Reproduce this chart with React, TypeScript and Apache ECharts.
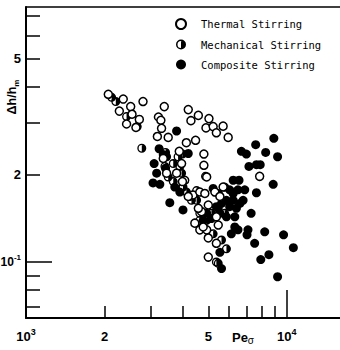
import React, { useEffect, useRef } from "react";
import * as echarts from "echarts";

// Tick / label values
const xLabelValues = [1000, 2000, 5000, 10000];
const xMinorTicks = [2000, 3000, 4000, 5000, 6000, 7000, 8000, 9000];
const xMajorTicks = [10000];
const yLabelValues = [0.1, 0.2, 0.5];
const yMinorTicks = [0.07, 0.08, 0.09, 0.2, 0.3, 0.4, 0.5, 0.6, 0.7];
const yMajorTicks = [0.1];

const seriesNames = ["Thermal Stirring", "Mechanical Stirring", "Composite Stirring"];

// [Pe_sigma, Δh/h_m]
const thermal: [number, number][] = [
  [2068, 0.377], [2360, 0.363], [2810, 0.356], [2520, 0.342], [2280, 0.33], [2550, 0.322],
  [2720, 0.309], [2430, 0.298], [2640, 0.29], [3220, 0.315], [3290, 0.307], [3390, 0.342],
  [3310, 0.288], [3190, 0.27], [3510, 0.268], [4190, 0.334], [4580, 0.319], [4290, 0.306],
  [5030, 0.311], [4900, 0.289], [5220, 0.292], [5700, 0.293], [5370, 0.278], [5960, 0.268],
  [4470, 0.262], [4120, 0.257], [4810, 0.235], [4810, 0.215], [4930, 0.196], [7870, 0.197],
  [3870, 0.24], [3950, 0.218], [3780, 0.202], [4060, 0.191], [4370, 0.17], [4640, 0.174],
  [4850, 0.172], [4710, 0.149], [4440, 0.136], [4640, 0.129], [4930, 0.129], [5000, 0.121],
  [5370, 0.116], [5000, 0.104], [5460, 0.134], [5300, 0.174], [5540, 0.168], [5000, 0.157],
  [4580, 0.153], [5370, 0.143], [3360, 0.227], [4190, 0.168], [3980, 0.189], [4780, 0.132],
  [5700, 0.181], [3460, 0.202],
];

const mechanical: [number, number][] = [
  [2130, 0.368], [2210, 0.356], [2430, 0.316], [2670, 0.292], [2780, 0.246], [3430, 0.238],
  [3460, 0.23], [3410, 0.213], [3670, 0.218], [3830, 0.23], [3890, 0.213], [3950, 0.202],
  [3510, 0.196], [3670, 0.189], [4000, 0.181], [4120, 0.174], [4240, 0.168], [4510, 0.176],
  [4310, 0.163], [4880, 0.197], [5870, 0.111], [5460, 0.099], [5370, 0.1], [4640, 0.147],
  [5140, 0.147], [4930, 0.139], [5460, 0.153], [5220, 0.125], [3980, 0.235], [4510, 0.163],
  [4640, 0.139], [5780, 0.147], [5620, 0.119],
];

const composite: [number, number][] = [
  [3780, 0.282], [3100, 0.218], [3170, 0.202], [3070, 0.187], [3260, 0.185], [3560, 0.16],
  [4000, 0.151], [4190, 0.236], [6700, 0.24], [7000, 0.235], [7600, 0.253], [8300, 0.238],
  [8920, 0.266], [9220, 0.23], [7160, 0.213], [7650, 0.216], [7910, 0.216], [8870, 0.185],
  [7650, 0.173], [6900, 0.177], [6230, 0.191], [6560, 0.191], [7300, 0.147], [6410, 0.153],
  [6320, 0.143], [6320, 0.132], [6130, 0.125], [6500, 0.129], [7100, 0.129], [7040, 0.124],
  [7530, 0.116], [8230, 0.127], [9720, 0.124], [10600, 0.112], [8540, 0.106], [7950, 0.102],
  [9220, 0.089], [5540, 0.108], [5620, 0.095], [3240, 0.245], [3360, 0.234], [3430, 0.21],
  [3720, 0.181], [3890, 0.174], [5220, 0.179], [5460, 0.172], [5780, 0.181], [6040, 0.177],
  [6230, 0.172], [5870, 0.163], [6230, 0.163], [5620, 0.159], [6040, 0.155], [5370, 0.155],
  [5140, 0.141], [5540, 0.147], [4930, 0.147], [4780, 0.139], [5870, 0.143], [6610, 0.159],
  [6800, 0.163], [6500, 0.177],
];

const HALF_SYMBOL =
  "path://M10,0A10,10,0,1,1,10,20A10,10,0,1,1,10,0ZM10,3A7,7,0,1,0,10,17A7,7,0,1,0,10,3ZM10,0A10,10,0,0,1,10,20Z";

const FONT = "Liberation Sans";

const labelRich = {
  b: { fontSize: 13, fontWeight: "bold", fontFamily: FONT, color: "#000", lineHeight: 18 },
  bs: { fontSize: 12, fontWeight: "bold", fontFamily: FONT, color: "#000", lineHeight: 18 },
  s: { fontSize: 9, fontWeight: "bold", fontFamily: FONT, color: "#000", lineHeight: 8, verticalAlign: "top" },
  ss: { fontSize: 8, fontWeight: "bold", fontFamily: FONT, color: "#000", lineHeight: 8, verticalAlign: "top" },
};

export default function App() {
  const ref = useRef<HTMLDivElement>(null);
  useEffect(() => {
    const chart = echarts.init(ref.current!, null, { renderer: "svg" });
    const xCommon = { type: "log", logBase: 10, min: 1000, max: 16000, splitLine: { show: false }, minorTick: { show: false } };
    const yCommon = { type: "log", logBase: 10, min: 0.06423, max: 0.752, splitLine: { show: false }, minorTick: { show: false } };
    chart.setOption({
      animation: false,
      backgroundColor: "#fff",
      grid: { left: 26, top: 7, right: 0, bottom: 32, containLabel: false, outerBoundsMode: "none" },
      xAxis: [
        {
          ...xCommon,
          position: "bottom",
          axisLine: { show: true, lineStyle: { color: "#000", width: 2 } },
          axisTick: { show: true, inside: true, length: 12, customValues: xMinorTicks, lineStyle: { color: "#000", width: 1.5 } },
          axisLabel: {
            show: true,
            margin: 9,
            customValues: xLabelValues,
            formatter: (v: number) => {
              if (v < 1500) return "{b|10}{s|3}";
              if (v < 3000) return "{b|2}";
              if (v < 7000) return "{b|5}";
              return "{b|10}{s|4}";
            },
            rich: labelRich,
          },
        },
        {
          ...xCommon,
          position: "bottom",
          axisLine: { show: false },
          axisTick: { show: true, inside: true, length: 28, customValues: xMajorTicks, lineStyle: { color: "#000", width: 1.5 } },
          axisLabel: { show: false },
        },
        {
          ...xCommon,
          position: "top",
          axisLine: { show: true, lineStyle: { color: "#000", width: 1.5 } },
          axisTick: { show: false },
          axisLabel: { show: false },
        },
      ],
      yAxis: [
        {
          ...yCommon,
          position: "left",
          axisLine: { show: true, lineStyle: { color: "#000", width: 2 } },
          axisTick: { show: true, inside: true, length: 14, customValues: yMinorTicks, lineStyle: { color: "#000", width: 1.5 } },
          axisLabel: {
            show: true,
            margin: 5,
            customValues: yLabelValues,
            formatter: (v: number) => {
              if (v < 0.15) return "{bs|10}{ss|-1}";
              if (v < 0.3) return "{b|2}";
              return "{b|5}";
            },
            rich: labelRich,
          },
        },
        {
          ...yCommon,
          position: "left",
          axisLine: { show: false },
          axisTick: { show: true, inside: true, length: 26, customValues: yMajorTicks, lineStyle: { color: "#000", width: 1.5 } },
          axisLabel: { show: false },
        },
      ],
      legend: {
        orient: "vertical",
        left: 170,
        top: 13,
        itemWidth: 10,
        itemHeight: 10,
        itemGap: 9,
        data: seriesNames,
        selectedMode: false,
        textStyle: { fontFamily: "DejaVu Sans Mono", fontSize: 10.5, color: "#000", padding: [0, 0, 0, 10] },
      },
      series: [
        {
          name: seriesNames[2],
          type: "scatter",
          xAxisIndex: 0,
          yAxisIndex: 0,
          symbol: "circle",
          symbolSize: 9,
          itemStyle: { color: "#000", opacity: 1 },
          data: composite,
        },
        {
          name: seriesNames[1],
          type: "scatter",
          xAxisIndex: 0,
          yAxisIndex: 0,
          symbol: HALF_SYMBOL,
          symbolKeepAspect: true,
          symbolSize: 9,
          itemStyle: { color: "#000", opacity: 1 },
          data: mechanical,
        },
        {
          name: seriesNames[0],
          type: "scatter",
          xAxisIndex: 0,
          yAxisIndex: 0,
          symbol: "circle",
          symbolSize: 8,
          itemStyle: { color: "#fff", borderColor: "#000", borderWidth: 1.5, opacity: 1 },
          data: thermal,
        },
      ],
      graphic: [
        {
          type: "text",
          x: 12,
          y: 97,
          rotation: Math.PI / 2,
          style: {
            text: "{a|Δh/h}{m|m}",
            align: "center",
            verticalAlign: "middle",
            rich: {
              a: { fontSize: 12.5, fontWeight: "bold", fontFamily: FONT, fill: "#000", lineHeight: 16 },
              m: { fontSize: 8, fontWeight: "bold", fontFamily: FONT, fill: "#000", lineHeight: 10, verticalAlign: "bottom" },
            },
          },
        },
        {
          type: "text",
          x: 243,
          y: 337,
          style: {
            text: "{a|Pe}{m|σ}",
            align: "center",
            verticalAlign: "middle",
            rich: {
              a: { fontSize: 13, fontWeight: "bold", fontFamily: FONT, fill: "#000", lineHeight: 16 },
              m: { fontSize: 10, fontFamily: FONT, fill: "#000", lineHeight: 10, verticalAlign: "bottom" },
            },
          },
        },
      ],
    });
    return () => chart.dispose();
  }, []);
  return <div ref={ref} style={{ position: "absolute", left: 0, top: 0, width: 340, height: 350 }} />;
}
